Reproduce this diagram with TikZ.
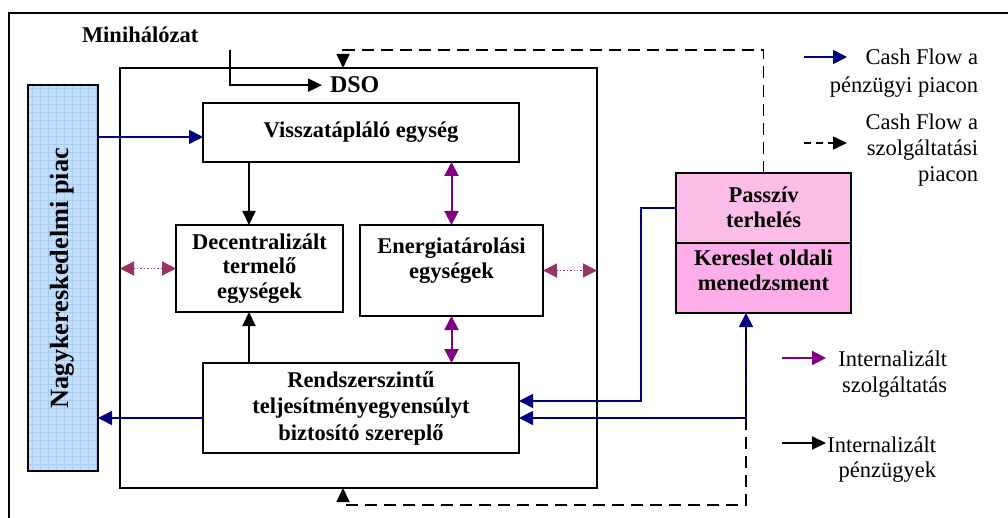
\documentclass[tikz,border=0pt]{standalone}
\usepackage{fontspec}
\setmainfont{Liberation Serif}
\usetikzlibrary{arrows.meta}
\definecolor{cfblue}{HTML}{000080}
\definecolor{svcpurple}{HTML}{800080}
\definecolor{dotpurple}{HTML}{993366}
\definecolor{marketfill}{HTML}{C2DEFA}
\definecolor{marketgrid}{HTML}{A9CDF2}
\definecolor{pinkup}{HTML}{FDBDE9}
\definecolor{pinklow}{HTML}{FDAEE9}
\tikzset{
  every node/.style={outer sep=0pt},
  unitbox/.style={draw, line width=2pt, inner sep=0pt, align=center,
    font=\bfseries\fontsize{22.5}{24.5}\selectfont},
  txt/.style={inner sep=0pt, align=center, font=\bfseries\fontsize{22.5}{25}\selectfont},
  legtxt/.style={inner sep=0pt, align=right, font=\fontsize{22.5}{27}\selectfont},
  finarrow/.style={line width=2pt, -{Triangle[length=14pt,width=13pt]}},
  cashflow/.style={cfblue, line width=1.6pt, -{Triangle[length=14pt,width=14pt]}},
  svcarrow/.style={svcpurple, line width=2pt, {Triangle[length=14pt,width=14pt]}-{Triangle[length=14pt,width=14pt]}},
  dotarrow/.style={dotpurple, line width=1.4pt, dotted,
    {Triangle[length=14pt,width=14pt]}-{Triangle[length=14pt,width=14pt]}},
  svcflow/.style={line width=1.6pt, dash pattern=on 12pt off 7pt, -{Triangle[length=14pt,width=13pt]}}
}
\begin{document}
\begin{tikzpicture}[x=1pt,y=-1pt]
\useasboundingbox (0,0) rectangle (1008,518);

% outer frame (runs off the right and bottom edges)
\draw[line width=2pt] (9,518) -- (9,13) -- (1008,13);

% wholesale market, hatched blue bar
\node[draw, line width=2pt, fill=marketfill, minimum width=70pt, minimum height=386pt,
  inner sep=0pt] (nagy) at (63,278) {};
\begin{scope}
  \clip (28,85) rectangle (98,471);
  \draw[marketgrid, line width=0.8pt, step=8pt] (28,85) grid (98,471);
\end{scope}
\draw[line width=2pt] (28,85) rectangle (98,471);
\node[txt, rotate=90, font=\bfseries\fontsize{26.3}{28}\selectfont] (nagytxt) at (62,278) {Nagykereskedelmi piac};

% DSO frame
\node[draw, line width=2pt, minimum width=477pt, minimum height=420pt, inner sep=0pt] (dso) at (358.5,278) {};
\node[txt, anchor=base west, font=\bfseries\fontsize{24}{26}\selectfont] (dsolbl) at (330,93) {DSO};
\node[txt, anchor=base west] (mini) at (82,43) {Minihálózat};

% units inside the DSO
\node[unitbox, minimum width=316pt, minimum height=59pt] (vis) at (361,132.5) {Visszatápláló egység};
\node[unitbox, minimum width=167pt, minimum height=87pt] (dec) at (259.5,268.5) {Decentralizált\\termelő\\egységek};
\node[unitbox, minimum width=183pt, minimum height=91pt] (ene) at (451.5,270.5) {};
\node[txt] (enetxt) at (451.5,261) {Energiatárolási\\egységek};
\node[unitbox, minimum width=316pt, minimum height=90pt, font=\bfseries\fontsize{22.5}{26.5}\selectfont] (ren) at (361,408) {Rendszerszintű\\teljesítményegyensúlyt\\biztosító szereplő};

% demand side unit
\node[draw, line width=2pt, fill=pinkup, minimum width=175pt, minimum height=70pt, inner sep=0pt] (pas) at (763.5,208) {};
\node[draw, line width=2pt, fill=pinklow, minimum width=175pt, minimum height=70pt, inner sep=0pt] (ker) at (763.5,278) {};
\node[txt] (pastxt) at (763.5,207) {Passzív\\terhelés};
\node[txt] (kertxt) at (763.5,270) {Kereslet oldali\\menedzsment};

% bend points of the connectors
\coordinate (miniStart) at (230,50);
\coordinate (dashTop) at (343,50);
\coordinate (dsoTop) at (343,68);
\coordinate (dsoBot) at (343,488);
\coordinate (dashBot) at (343,505);
\coordinate (kerIn) at (746,313);
\coordinate (kerBend) at (746,418);
\coordinate (pasBend) at (641,401);
\coordinate (decX) at (249,0);
\coordinate (visY) at (0,137);

% internal finance flows
\draw[finarrow] (miniStart) |- ([xshift=-8pt]dsolbl.west);
\draw[finarrow] (vis.south -| decX) -- (dec.north -| decX);
\draw[finarrow] (ren.north -| decX) -- (dec.south -| decX);

% internal services
\draw[svcarrow] (vis.south -| ene) -- (ene.north);
\draw[svcarrow] (ene.south) -- (ren.north -| ene);
\draw[dotarrow] (dec.west -| dso.west) -- (dec.west);
\draw[dotarrow] (ene.east) -- (ene.east -| dso.east);

% cash flow on the financial market
\draw[cashflow] (nagy.east |- visY) -- (vis.west |- visY);
\draw[cashflow] ([yshift=-10pt]ren.west) -- ([yshift=-10pt]ren.west -| nagy.east);
\draw[cashflow] (pas.west) -| (pasBend) -- (ren.east |- pasBend);
\draw[cfblue, line width=1.6pt, {Triangle[length=14pt,width=14pt]}-{Triangle[length=14pt,width=14pt]}]
  (kerIn) |- (ren.east |- kerBend);

% cash flow on the service market
\draw[svcflow] (pas.north) |- (dashTop) -- (dsoTop);
\draw[line width=1.2pt, dash pattern=on 10pt off 8pt] (kerIn) ++(0,18) -- (kerBend);
\draw[svcflow] (kerBend) |- (dashBot) -- (dsoBot);

% legend
\coordinate (la1) at (804,57);  \coordinate (lb1) at (847,57);
\coordinate (la2) at (804,143); \coordinate (lb2) at (847,143);
\coordinate (la3) at (782,358); \coordinate (lb3) at (826,358);
\coordinate (la4) at (782,443); \coordinate (lb4) at (826,443);
\draw[cashflow] (la1) -- (lb1);
\draw[line width=1.6pt, dash pattern=on 7pt off 5pt, -{Triangle[length=14pt,width=13pt]}] (la2) -- (lb2);
\draw[svcpurple, line width=2pt, -{Triangle[length=14pt,width=14pt]}] (la3) -- (lb3);
\draw[finarrow] (la4) -- (lb4);
\node[legtxt, anchor=base east, font=\fontsize{22.5}{28}\selectfont] (leg1) at (978,93) {Cash Flow a\\pénzügyi piacon};
\node[legtxt, anchor=base east, font=\fontsize{22.5}{26}\selectfont] (leg2) at (978,182) {Cash Flow a\\szolgáltatási\\piacon};
\node[legtxt, anchor=base east, font=\fontsize{22.5}{26}\selectfont] (leg3) at (947,392) {Internalizált\\szolgáltatás};
\node[legtxt, anchor=base east, font=\fontsize{22.5}{25}\selectfont] (leg4) at (936,477) {Internalizált\\pénzügyek};
\end{tikzpicture}
\end{document}
